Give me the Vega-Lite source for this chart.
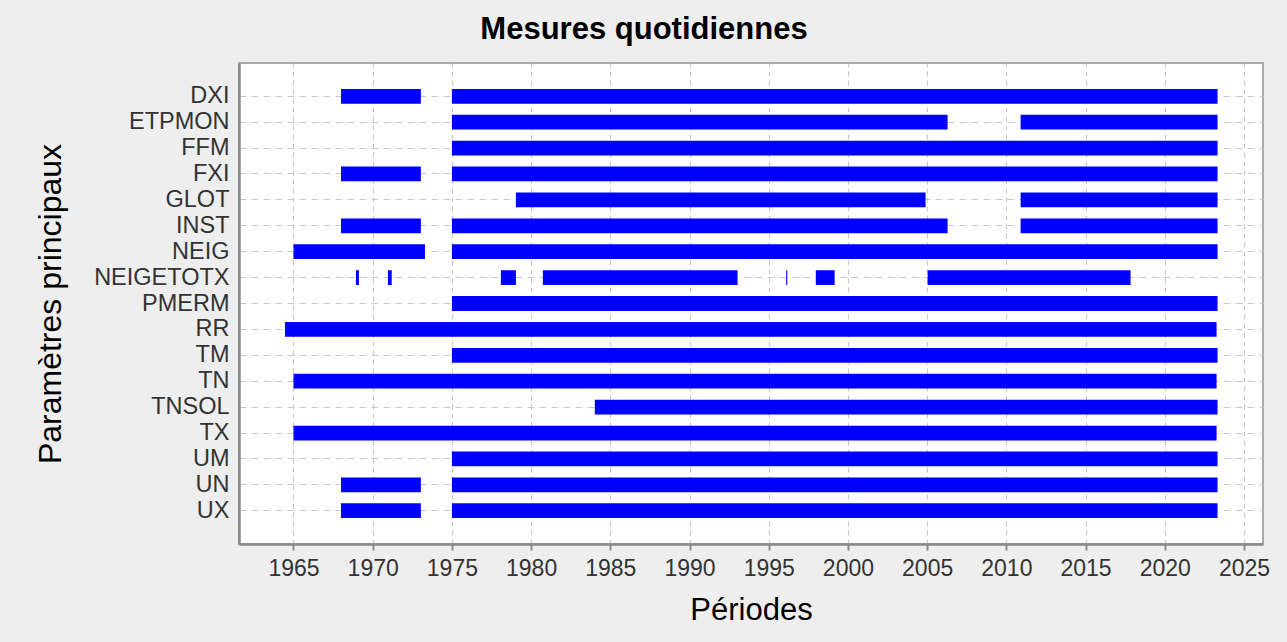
{
  "$schema": "https://vega.github.io/schema/vega-lite/v6.json",
  "autosize": "none",
  "width": 1024,
  "height": 481,
  "padding": {"left": 239, "top": 63, "right": 24, "bottom": 98},
  "background": "#eeeeee",
  "title": {
    "text": "Mesures quotidiennes",
    "font": "Liberation Sans",
    "fontSize": 31,
    "fontWeight": "bold",
    "color": "#000000",
    "anchor": "middle",
    "dx": -107,
    "dy": 29,
    "baseline": "alphabetic",
    "offset": 22
  },
  "config": {
    "view": {"fill": "#ffffff", "stroke": "#aaaaaa", "strokeWidth": 2},
    "font": "Liberation Sans"
  },
  "data": {
    "values": [
      {"param": "DXI", "start": 1968.0, "end": 1973.04},
      {"param": "DXI", "start": 1975.0, "end": 2023.33},
      {"param": "ETPMON", "start": 1975.0, "end": 2006.29},
      {"param": "ETPMON", "start": 2010.9, "end": 2023.33},
      {"param": "FFM", "start": 1975.0, "end": 2023.33},
      {"param": "FXI", "start": 1968.0, "end": 1973.04},
      {"param": "FXI", "start": 1975.0, "end": 2023.33},
      {"param": "GLOT", "start": 1979.04, "end": 2004.9},
      {"param": "GLOT", "start": 2010.9, "end": 2023.33},
      {"param": "INST", "start": 1968.0, "end": 1973.04},
      {"param": "INST", "start": 1975.0, "end": 2006.29},
      {"param": "INST", "start": 2010.9, "end": 2023.33},
      {"param": "NEIG", "start": 1965.0, "end": 1973.3},
      {"param": "NEIG", "start": 1975.0, "end": 2023.33},
      {"param": "NEIGETOTX", "start": 1968.94, "end": 1969.13},
      {"param": "NEIGETOTX", "start": 1970.96, "end": 1971.2},
      {"param": "NEIGETOTX", "start": 1978.09, "end": 1979.04},
      {"param": "NEIGETOTX", "start": 1980.74, "end": 1993.03},
      {"param": "NEIGETOTX", "start": 1996.1, "end": 1996.17},
      {"param": "NEIGETOTX", "start": 1997.97, "end": 1999.16},
      {"param": "NEIGETOTX", "start": 2005.03, "end": 2017.84},
      {"param": "PMERM", "start": 1975.0, "end": 2023.33},
      {"param": "RR", "start": 1964.46, "end": 2023.27},
      {"param": "TM", "start": 1975.0, "end": 2023.33},
      {"param": "TN", "start": 1965.0, "end": 2023.27},
      {"param": "TNSOL", "start": 1984.02, "end": 2023.33},
      {"param": "TX", "start": 1965.0, "end": 2023.27},
      {"param": "UM", "start": 1975.0, "end": 2023.33},
      {"param": "UN", "start": 1968.0, "end": 1973.04},
      {"param": "UN", "start": 1975.0, "end": 2023.33},
      {"param": "UX", "start": 1968.0, "end": 1973.04},
      {"param": "UX", "start": 1975.0, "end": 2023.33}
    ]
  },
  "mark": {"type": "bar", "color": "#0000ff", "cornerRadius": 0},
  "encoding": {
    "x": {
      "field": "start",
      "type": "quantitative",
      "scale": {"domain": [1961.56, 2026.2], "nice": false, "zero": false},
      "axis": {
        "title": "Périodes",
        "values": [1965, 1970, 1975, 1980, 1985, 1990, 1995, 2000, 2005, 2010, 2015, 2020, 2025],
        "format": "d",
        "labelFont": "Liberation Sans",
        "labelFontSize": 23,
        "labelColor": "#333333",
        "labelPadding": 7,
        "tickColor": "#888888",
        "tickWidth": 2,
        "tickSize": 6,
        "domainColor": "#888888",
        "domainWidth": 2.5,
        "grid": true,
        "gridColor": "#c8c8c8",
        "gridDash": [5, 4],
        "gridWidth": 1.2,
        "titleFont": "Liberation Sans",
        "titleFontSize": 31,
        "titleFontWeight": "normal",
        "titleColor": "#000000",
        "titlePadding": 15
      }
    },
    "x2": {"field": "end"},
    "y": {
      "field": "param",
      "type": "nominal",
      "sort": ["DXI", "ETPMON", "FFM", "FXI", "GLOT", "INST", "NEIG", "NEIGETOTX", "PMERM", "RR", "TM", "TN", "TNSOL", "TX", "UM", "UN", "UX"],
      "scale": {"paddingInner": 0.43, "paddingOuter": 1.0},
      "axis": {
        "title": "Paramètres principaux",
        "ticks": false,
        "bandPosition": 0.5,
        "labelFont": "Liberation Sans",
        "labelFontSize": 23.5,
        "labelColor": "#333333",
        "labelPadding": 10,
        "domainColor": "#888888",
        "domainWidth": 2.5,
        "grid": true,
        "gridColor": "#c8c8c8",
        "gridDash": [7, 5],
        "gridWidth": 1.2,
        "titleFont": "Liberation Sans",
        "titleFontSize": 32,
        "titleFontWeight": "normal",
        "titleColor": "#000000",
        "titlePadding": 26
      }
    }
  }
}
